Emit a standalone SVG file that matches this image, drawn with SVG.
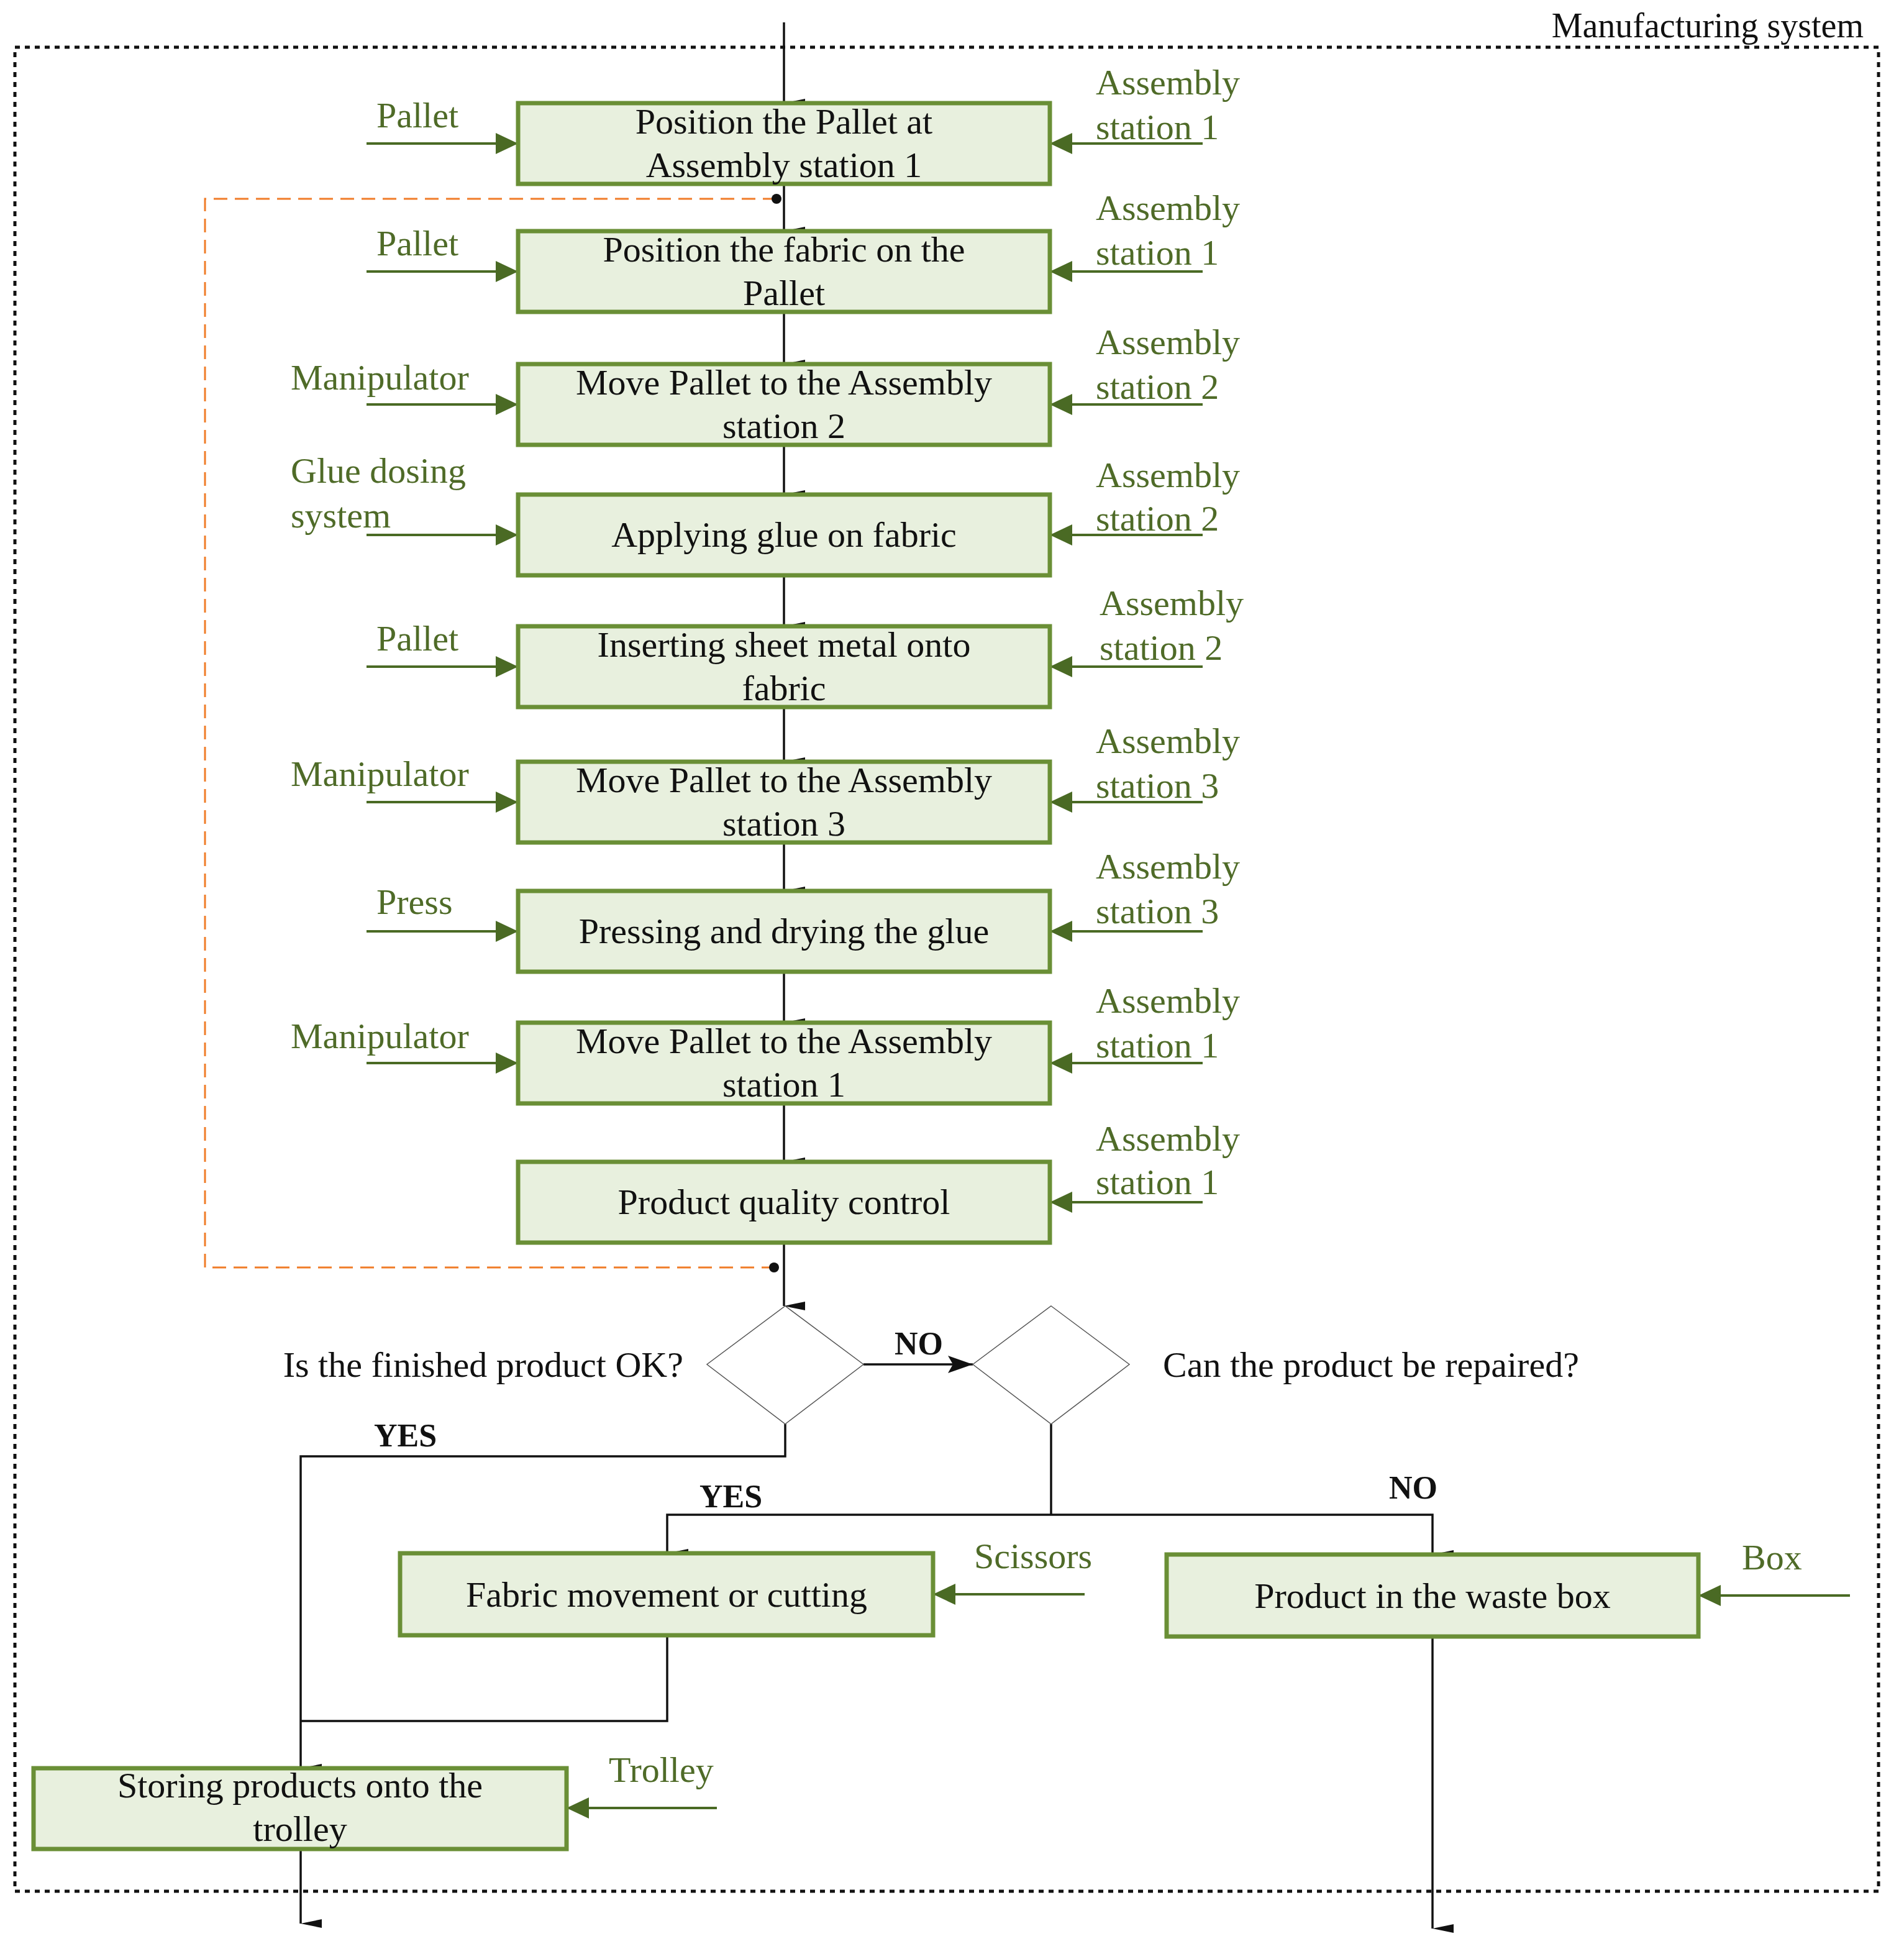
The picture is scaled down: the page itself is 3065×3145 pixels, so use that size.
<svg xmlns="http://www.w3.org/2000/svg" width="3065" height="3145" viewBox="0 0 3065 3145">
<style>
.box{fill:#e8f0de;stroke:#6a8f36;stroke-width:7}
.t{font-family:"Liberation Serif",serif;font-size:58px;fill:#111;text-anchor:middle}
.g{font-family:"Liberation Serif",serif;font-size:58px;fill:#4f6b28}
.b{font-family:"Liberation Serif",serif;font-size:52px;font-weight:bold;fill:#111}
.c{stroke:#111;stroke-width:3.5;fill:none}
.in{stroke:#4a6a24;stroke-width:4;fill:none}
.dia{fill:#fff;stroke:#555;stroke-width:1.5}
</style>
<defs>
<marker id="ab" markerWidth="14" markerHeight="34" refX="7" refY="34" orient="auto" markerUnits="userSpaceOnUse" viewBox="0 0 14 34"><path d="M0,0 L14,0 L7,34 Z" fill="#111"/></marker>
<marker id="ar" markerWidth="40" markerHeight="28" refX="40" refY="14" orient="auto" markerUnits="userSpaceOnUse" viewBox="0 0 40 28"><path d="M0,0 L40,14 L0,28 L8,14 Z" fill="#111"/></marker>
<marker id="ag" markerWidth="36" markerHeight="34" refX="36" refY="17" orient="auto" markerUnits="userSpaceOnUse" viewBox="0 0 36 34"><path d="M0,0 L36,17 L0,34 Z" fill="#4a6a24"/></marker>
</defs>
<rect x="24" y="76" width="3000" height="2968" fill="none" stroke="#111" stroke-width="5" stroke-dasharray="8,8"/>
<text x="3000" y="60" font-family="Liberation Serif,serif" font-size="56" fill="#111" text-anchor="end">Manufacturing system</text>

<g id="connectors">
<path class="c" d="M1262,36 V166" marker-end="url(#ab)"/>
<path class="c" d="M1262,296 V372" marker-end="url(#ab)"/>
<path class="c" d="M1262,502 V586" marker-end="url(#ab)"/>
<path class="c" d="M1262,716 V796" marker-end="url(#ab)"/>
<path class="c" d="M1262,926 V1008" marker-end="url(#ab)"/>
<path class="c" d="M1262,1138 V1226" marker-end="url(#ab)"/>
<path class="c" d="M1262,1356 V1434" marker-end="url(#ab)"/>
<path class="c" d="M1262,1564 V1646" marker-end="url(#ab)"/>
<path class="c" d="M1262,1776 V1870" marker-end="url(#ab)"/>
<path class="c" d="M1262,2000 V2102" marker-end="url(#ab)"/>
<path class="c" d="M1390,2196 H1566" marker-end="url(#ar)"/>
<path class="c" d="M1264,2292 V2344 H484 V2846" marker-end="url(#ab)"/>
<path class="c" d="M1692,2292 V2438"/>
<path class="c" d="M1692,2438 H1074 V2500" marker-end="url(#ab)"/>
<path class="c" d="M1692,2438 H2306 V2502" marker-end="url(#ab)"/>
<path class="c" d="M1074,2632 V2770 H484"/>
<path class="c" d="M484,2976 V3096" marker-end="url(#ab)"/>
<path class="c" d="M2306,2634 V3104" marker-end="url(#ab)"/>
<path d="M1250,320 H330 V2040 H1246" fill="none" stroke="#f07c28" stroke-width="3" stroke-dasharray="22,12"/>
<circle cx="1250" cy="320" r="8" fill="#111"/>
<circle cx="1246" cy="2040" r="8" fill="#111"/>
<g>
<path class="in" d="M590,231 H834" marker-end="url(#ag)"/>
<path class="in" d="M590,437 H834" marker-end="url(#ag)"/>
<path class="in" d="M590,651 H834" marker-end="url(#ag)"/>
<path class="in" d="M590,861 H834" marker-end="url(#ag)"/>
<path class="in" d="M590,1073 H834" marker-end="url(#ag)"/>
<path class="in" d="M590,1291 H834" marker-end="url(#ag)"/>
<path class="in" d="M590,1499 H834" marker-end="url(#ag)"/>
<path class="in" d="M590,1711 H834" marker-end="url(#ag)"/>
<path class="in" d="M1936,231 H1690" marker-end="url(#ag)"/>
<path class="in" d="M1936,437 H1690" marker-end="url(#ag)"/>
<path class="in" d="M1936,651 H1690" marker-end="url(#ag)"/>
<path class="in" d="M1936,861 H1690" marker-end="url(#ag)"/>
<path class="in" d="M1936,1073 H1690" marker-end="url(#ag)"/>
<path class="in" d="M1936,1291 H1690" marker-end="url(#ag)"/>
<path class="in" d="M1936,1499 H1690" marker-end="url(#ag)"/>
<path class="in" d="M1936,1711 H1690" marker-end="url(#ag)"/>
<path class="in" d="M1936,1935 H1690" marker-end="url(#ag)"/>
<path class="in" d="M1746,2566 H1502" marker-end="url(#ag)"/>
<path class="in" d="M2978,2568 H2734" marker-end="url(#ag)"/>
<path class="in" d="M1154,2910 H912" marker-end="url(#ag)"/>
</g>
</g>

<g id="n1"><rect class="box" x="834" y="166" width="856" height="130"/><text class="t" x="1262" y="215">Position the Pallet at</text><text class="t" x="1262" y="285">Assembly station 1</text></g>
<g id="n2"><rect class="box" x="834" y="372" width="856" height="130"/><text class="t" x="1262" y="421">Position the fabric on the</text><text class="t" x="1262" y="491">Pallet</text></g>
<g id="n3"><rect class="box" x="834" y="586" width="856" height="130"/><text class="t" x="1262" y="635">Move Pallet to the Assembly</text><text class="t" x="1262" y="705">station 2</text></g>
<g id="n4"><rect class="box" x="834" y="796" width="856" height="130"/><text class="t" x="1262" y="880">Applying glue on fabric</text></g>
<g id="n5"><rect class="box" x="834" y="1008" width="856" height="130"/><text class="t" x="1262" y="1057">Inserting sheet metal onto</text><text class="t" x="1262" y="1127">fabric</text></g>
<g id="n6"><rect class="box" x="834" y="1226" width="856" height="130"/><text class="t" x="1262" y="1275">Move Pallet to the Assembly</text><text class="t" x="1262" y="1345">station 3</text></g>
<g id="n7"><rect class="box" x="834" y="1434" width="856" height="130"/><text class="t" x="1262" y="1518">Pressing and drying the glue</text></g>
<g id="n8"><rect class="box" x="834" y="1646" width="856" height="130"/><text class="t" x="1262" y="1695">Move Pallet to the Assembly</text><text class="t" x="1262" y="1765">station 1</text></g>
<g id="n9"><rect class="box" x="834" y="1870" width="856" height="130"/><text class="t" x="1262" y="1954">Product quality control</text></g>

<g id="d1"><polygon class="dia" points="1264,2102 1390,2196 1264,2292 1138,2196"/><text class="t" x="1100" y="2216" text-anchor="end" style="text-anchor:end">Is the finished product OK?</text></g>
<g id="d2"><polygon class="dia" points="1692,2102 1818,2196 1692,2292 1566,2196"/><text class="t" x="1872" y="2216" style="text-anchor:start">Can the product be repaired?</text></g>
<text class="b" x="1440" y="2180">NO</text>
<text class="b" x="602" y="2328">YES</text>
<text class="b" x="1126" y="2426">YES</text>
<text class="b" x="2236" y="2412">NO</text>

<g id="n10"><rect class="box" x="644" y="2500" width="858" height="132"/><text class="t" x="1073" y="2586">Fabric movement or cutting</text></g>
<g id="n11"><rect class="box" x="1878" y="2502" width="856" height="132"/><text class="t" x="2306" y="2588">Product in the waste box</text></g>
<g id="n12"><rect class="box" x="54" y="2846" width="858" height="130"/><text class="t" x="483" y="2893">Storing products onto the</text><text class="t" x="483" y="2963">trolley</text></g>

<g id="labels">
<text class="g" x="606" y="205">Pallet</text>
<text class="g" x="606" y="411">Pallet</text>
<text class="g" x="468" y="627">Manipulator</text>
<text class="g" x="468" y="777">Glue dosing</text>
<text class="g" x="468" y="849">system</text>
<text class="g" x="606" y="1047">Pallet</text>
<text class="g" x="468" y="1265">Manipulator</text>
<text class="g" x="606" y="1471">Press</text>
<text class="g" x="468" y="1687">Manipulator</text>
<text class="g" x="1764" y="152">Assembly</text><text class="g" x="1764" y="224">station 1</text>
<text class="g" x="1764" y="354">Assembly</text><text class="g" x="1764" y="426">station 1</text>
<text class="g" x="1764" y="570">Assembly</text><text class="g" x="1764" y="642">station 2</text>
<text class="g" x="1764" y="784">Assembly</text><text class="g" x="1764" y="854">station 2</text>
<text class="g" x="1770" y="990">Assembly</text><text class="g" x="1770" y="1062">station 2</text>
<text class="g" x="1764" y="1212">Assembly</text><text class="g" x="1764" y="1284">station 3</text>
<text class="g" x="1764" y="1414">Assembly</text><text class="g" x="1764" y="1486">station 3</text>
<text class="g" x="1764" y="1630">Assembly</text><text class="g" x="1764" y="1702">station 1</text>
<text class="g" x="1764" y="1852">Assembly</text><text class="g" x="1764" y="1922">station 1</text>
<text class="g" x="1568" y="2524">Scissors</text>
<text class="g" x="2804" y="2526">Box</text>
<text class="g" x="980" y="2868">Trolley</text>
</g>
</svg>
